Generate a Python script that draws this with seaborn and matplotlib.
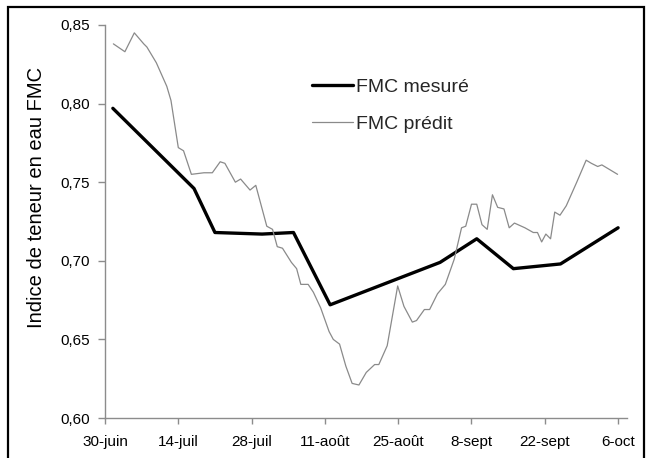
import matplotlib
matplotlib.use("Agg")
import matplotlib.pyplot as plt
import matplotlib.patches as mpatches
import seaborn as sns
import pandas as pd

# Days counted from 30 June
measured_day = [1.5, 17, 21, 30, 36, 43, 64, 71, 78, 87, 98]
measured_fmc = [0.797, 0.746, 0.718, 0.717, 0.718, 0.672, 0.699, 0.714, 0.695, 0.698, 0.721]

predicted_day = [1.6, 3.8, 5.6, 7.4, 8.0, 9.8, 11.8, 12.6, 14.0, 15.0, 16.5, 18.9, 20.5,
                 22.0, 22.9, 24.9, 25.9, 27.7, 28.8, 30.9, 32.0, 32.9, 33.9, 35.6, 36.6,
                 37.4, 38.8, 39.8, 41.2, 42.8, 43.6, 44.8, 46.0, 47.2, 48.5, 49.9, 51.5,
                 52.3, 53.9, 55.9, 57.1, 58.7, 59.5, 61.0, 62.0, 63.5, 65.0, 66.7, 68.1,
                 68.9, 70.0, 71.0, 72.0, 73.0, 74.0, 75.0, 76.2, 77.2, 78.2, 80.2, 81.8,
                 82.6, 83.4, 84.2, 85.1, 85.9, 86.9, 88.1, 90.1, 91.9, 92.9, 94.1, 94.9, 97.9]
predicted_fmc = [0.838, 0.833, 0.845, 0.838, 0.836, 0.826, 0.811, 0.802, 0.772, 0.770, 0.755,
                 0.756, 0.756, 0.763, 0.762, 0.750, 0.752, 0.745, 0.748, 0.722, 0.720, 0.709,
                 0.708, 0.699, 0.695, 0.685, 0.685, 0.680, 0.670, 0.655, 0.650, 0.647, 0.633,
                 0.622, 0.621, 0.629, 0.634, 0.634, 0.646, 0.684, 0.671, 0.661, 0.662, 0.669,
                 0.669, 0.679, 0.685, 0.701, 0.721, 0.722, 0.736, 0.736, 0.723, 0.720, 0.742,
                 0.734, 0.733, 0.721, 0.724, 0.721, 0.718, 0.718, 0.712, 0.717, 0.714, 0.731,
                 0.729, 0.735, 0.750, 0.764, 0.762, 0.760, 0.761, 0.755]

tick_days = [0, 14, 28, 42, 56, 70, 84, 98]
tick_labels = ["30-juin", "14-juil", "28-juil", "11-août", "25-août", "8-sept", "22-sept", "6-oct"]
y_ticks = [0.60, 0.65, 0.70, 0.75, 0.80, 0.85]

sns.set_theme(style="white")
plt.rcParams["font.family"] = ["Liberation Sans", "DejaVu Sans"]

fig = plt.figure(figsize=(6.53, 4.58), dpi=100)
ax = fig.add_axes([105 / 653, 1 - 418 / 458, (627 - 105) / 653, (418 - 25) / 458])

df_meas = pd.DataFrame({"day": measured_day, "fmc": measured_fmc})
df_pred = pd.DataFrame({"day": predicted_day, "fmc": predicted_fmc})

sns.lineplot(data=df_meas, x="day", y="fmc", ax=ax, color="black", linewidth=2.4,
             label="FMC mesuré", legend=False)
sns.lineplot(data=df_pred, x="day", y="fmc", ax=ax, color="#8a8a8a", linewidth=0.9,
             label="FMC prédit", legend=False)

ax.set_xlim(0, 99.7)
ax.set_ylim(0.60, 0.85)
ax.set_xticks(tick_days)
ax.set_xticklabels(tick_labels)
ax.set_yticks(y_ticks)
ax.set_yticklabels([f"{v:.2f}".replace(".", ",") for v in y_ticks])

for side in ["top", "right"]:
    ax.spines[side].set_visible(False)
for side in ["left", "bottom"]:
    ax.spines[side].set_color("#8c8c8c")
    ax.spines[side].set_linewidth(1.0)

ax.tick_params(axis="x", direction="out", length=4, width=1, color="#8c8c8c",
               pad=8, labelsize=11, labelcolor="black", bottom=True)
ax.tick_params(axis="y", direction="out", length=5, width=1, color="#8c8c8c",
               pad=6, labelsize=11, labelcolor="black", left=True)
ax.set_xlabel("")
ax.set_ylabel("Indice de teneur en eau FMC", fontsize=14.5, color="black")
ax.yaxis.set_label_coords(-0.113, 0.56)

handles, labels = ax.get_legend_handles_labels()
ax.legend(handles, labels, loc="center left", bbox_to_anchor=(0.397, 0.795),
          frameon=False, fontsize=14, handlelength=2.1, handletextpad=0.15,
          labelspacing=1.0, borderpad=0, borderaxespad=0)

# Black frame around the whole figure
frame = mpatches.Rectangle((8 / 653, -0.02), (644 - 8) / 653, 1 - 7 / 458 + 0.02,
                           transform=fig.transFigure, fill=False,
                           edgecolor="black", linewidth=1.6)
fig.patches.append(frame)

fig.savefig("out.png", dpi=100)
